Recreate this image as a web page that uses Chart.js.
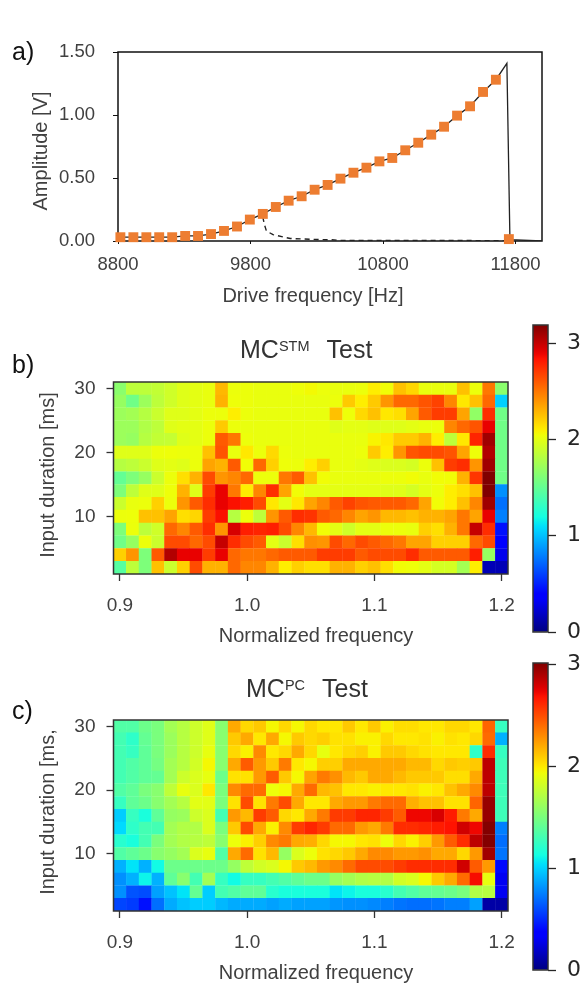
<!DOCTYPE html>
<html>
<head>
<meta charset="utf-8">
<title>Amplitude and memory capacity</title>
<script src="https://cdn.jsdelivr.net/npm/chart.js@4"></script>
<style>
    html, body { margin: 0; padding: 0; background: #fff; }
    body { position: relative; width: 582px; height: 984px; overflow: hidden; font-family: "Liberation Sans", sans-serif; }
    canvas { position: absolute; display: block; filter: blur(0.45px); }
    .tag, .heading, .axis { position: absolute; line-height: 1; white-space: nowrap; z-index: 2; }
    .tag { left: 12px; color: #111; font-size: 25px; }
    .heading { color: #333; font-size: 25px; }
    .heading span { font-size: 14.5px; position: relative; top: -7px; margin-right: 17px; }
    .axis { color: #404040; font-size: 20px; transform: translate(-50%, -50%); }
    .axis.up { transform: translate(-50%, -50%) rotate(-90deg); }
</style>
</head>
<body>
<div class="tag" style="top:39px">a)</div>
<div class="tag" style="top:352px">b)</div>
<div class="tag" style="top:698px">c)</div>
<div class="heading" style="left:240px;top:337px">MC<span>STM</span>Test</div>
<div class="heading" style="left:246px;top:676px">MC<span>PC</span>Test</div>
<div class="axis" style="left:313px;top:295px">Drive frequency [Hz]</div>
<div class="axis up" style="left:40px;top:151px">Amplitude [V]</div>
<div class="axis" style="left:316px;top:635px">Normalized frequency</div>
<div class="axis up" style="left:47px;top:475px">Input duration [ms]</div>
<div class="axis" style="left:316px;top:972px">Normalized frequency</div>
<div class="axis up" style="left:47px;top:812px">Input duration [ms,</div>
<canvas id="sweep" style="left:0;top:0" width="582" height="320"></canvas>
<canvas id="stm" style="left:0;top:320px" width="520" height="330"></canvas>
<canvas id="stmBar" style="left:520px;top:310px" width="62" height="340"></canvas>
<canvas id="pc" style="left:0;top:650px" width="520" height="334"></canvas>
<canvas id="pcBar" style="left:520px;top:650px" width="62" height="334"></canvas>
<script>
// panel a, upward sweep (orange markers)
const markerFreq = [8818, 8916, 9014, 9111, 9209, 9307, 9404, 9502, 9600, 9698, 9795, 9893, 9991, 10088, 10186, 10284,
    10382, 10479, 10577, 10675, 10773, 10870, 10968, 11066, 11164, 11261, 11359, 11457, 11555, 11652, 11750];
const markerAmp = [0.03, 0.03, 0.03, 0.03, 0.03, 0.04, 0.04, 0.055, 0.08, 0.115, 0.17, 0.215, 0.27, 0.32, 0.355, 0.407,
    0.445, 0.495, 0.542, 0.582, 0.632, 0.659, 0.72, 0.78, 0.844, 0.907, 0.995, 1.069, 1.183, 1.28, 0.015];
// the black trace goes a bit higher than the last marker before it drops
const peakFreq = [11735, 11758, 12000];
const peakAmp = [1.41, 0.01, 0.0];
// downward sweep (dashed)
const downFreq = [9893, 9905, 9920, 9970, 10100, 10300, 10410, 10480, 11000, 11750];
const downAmp = [0.19, 0.13, 0.08, 0.05, 0.02, 0.012, 0.01, 0.004, 0.004, 0.003];

const sweepXTicks = [8800, 9800, 10800, 11800];
const sweepYTicks = [0, 0.5, 1, 1.5];

// panels b and c, rows run from 30 ms down to 2 ms
const normFreq = [0.90, 0.91, 0.92, 0.93, 0.94, 0.95, 0.96, 0.97, 0.98, 0.99, 1.00, 1.01, 1.02, 1.03, 1.04, 1.05,
    1.06, 1.07, 1.08, 1.09, 1.10, 1.11, 1.12, 1.13, 1.14, 1.15, 1.16, 1.17, 1.18, 1.19, 1.20];
const durations = [30, 28, 26, 24, 22, 20, 18, 16, 14, 12, 10, 8, 6, 4, 2];

const stmValues = [
    [1.65,1.85,1.85,1.87,1.92,1.98,2.0,2.02,2.28,2.03,2.03,2.02,2.02,2.02,2.04,2.06,2.03,2.02,2.02,2.03,2.1,2.05,2.25,2.18,2.02,2.02,2.02,2.25,2.03,2.5,1.65],
    [1.7,1.55,1.72,1.85,1.92,1.98,2.0,2.02,2.3,2.04,2.03,2.02,2.02,2.02,2.02,2.02,2.02,2.03,2.22,2.1,2.22,2.4,2.55,2.55,2.62,2.68,2.45,2.12,2.25,2.55,1.05],
    [1.72,1.75,1.82,1.9,1.98,1.98,2.0,2.03,2.03,2.1,2.03,2.02,2.02,2.02,2.02,2.02,2.02,2.25,2.04,2.17,2.25,2.12,2.15,2.35,2.6,2.7,2.7,2.35,1.68,2.75,1.55],
    [1.72,1.72,1.8,1.85,1.98,2.0,2.0,2.03,2.22,2.03,2.02,2.02,2.02,2.02,2.02,2.02,2.02,1.98,2.0,2.0,1.98,1.98,1.98,2.0,2.02,2.03,2.45,2.55,2.62,2.9,1.55],
    [1.72,1.7,1.82,1.87,1.88,1.98,2.0,2.03,2.6,2.5,2.03,2.02,2.02,2.02,2.02,2.02,2.02,2.02,2.02,2.02,2.08,2.12,2.22,2.22,2.3,2.1,1.85,2.12,2.78,3.1,1.55],
    [1.98,1.98,1.98,2.03,2.04,2.03,2.03,2.25,2.62,2.02,2.12,2.03,2.17,2.03,2.02,2.02,2.02,2.02,2.02,2.03,2.22,2.1,2.4,2.62,2.65,2.65,2.62,2.35,2.04,3.05,1.55],
    [1.82,1.85,1.9,1.98,2.0,1.98,2.03,2.35,2.3,2.6,2.05,2.55,2.2,2.04,2.03,2.1,2.2,2.02,2.02,2.0,1.98,1.96,1.96,1.94,2.03,2.25,2.7,2.75,2.4,3.1,1.55],
    [1.5,1.6,1.7,1.9,2.03,2.15,2.3,2.65,2.4,2.45,2.55,2.03,2.03,2.5,2.6,2.25,2.05,2.02,2.02,2.02,2.02,2.03,2.03,2.05,2.02,2.05,2.05,2.3,2.72,3.2,1.55],
    [1.6,1.85,1.98,1.98,2.04,2.3,1.98,2.7,2.9,2.5,2.1,2.45,2.75,2.35,2.05,2.0,2.0,2.0,2.0,2.0,2.0,1.98,1.98,1.94,2.0,2.03,2.1,2.15,2.25,3.2,0.85],
    [1.9,2.02,2.03,2.2,2.03,2.4,2.6,2.75,2.9,2.85,2.8,2.65,2.12,2.0,2.12,2.35,2.45,2.6,2.68,2.62,2.6,2.6,2.6,2.55,2.35,2.05,2.1,2.25,2.45,3.1,0.75],
    [2.03,2.04,2.25,2.25,2.35,2.15,2.18,2.7,2.85,1.82,2.03,1.85,2.4,2.6,2.75,2.73,2.6,2.55,2.45,2.35,2.4,2.28,2.28,2.25,2.3,2.3,2.35,2.5,2.35,2.9,0.8],
    [1.6,2.03,1.85,1.92,2.55,2.45,2.6,2.75,2.4,2.95,2.8,2.78,2.8,2.65,2.45,2.28,2.05,2.0,1.92,2.0,2.0,2.03,2.03,2.02,2.2,2.15,2.3,2.5,3.0,2.75,0.45],
    [1.55,1.7,2.03,1.9,2.65,2.65,2.55,2.65,3.0,2.75,2.65,2.6,2.0,1.9,2.15,2.42,2.4,2.65,2.55,2.65,2.6,2.55,2.5,2.35,2.35,2.2,2.2,2.2,2.55,2.65,0.35],
    [2.2,2.4,1.6,2.6,3.05,2.9,2.9,2.7,2.9,2.55,2.5,2.5,2.55,2.6,2.6,2.6,2.7,2.7,2.7,2.6,2.65,2.65,2.65,2.75,2.6,2.6,2.6,2.6,2.8,1.7,0.3],
    [1.45,1.85,1.6,2.25,1.9,2.2,2.65,2.3,2.3,2.55,2.45,2.45,2.3,2.1,2.2,2.15,2.15,2.3,2.3,2.2,2.25,2.15,2.05,2.04,2.0,1.94,1.94,1.75,2.1,0.15,0.15]
];

const pcValues = [
    [1.35,1.35,1.45,1.5,1.65,1.72,1.8,1.87,1.55,2.2,2.05,2.1,1.95,2.05,1.95,2.05,2.0,2.0,2.1,2.0,2.1,1.97,2.03,2.03,2.0,2.0,2.05,2.05,2.0,2.42,1.25],
    [1.3,1.22,1.42,1.5,1.62,1.72,1.8,1.87,1.55,2.1,2.2,2.0,2.2,1.95,2.1,2.05,2.08,2.02,2.02,1.97,1.97,2.05,2.0,2.0,2.02,1.97,2.02,2.0,2.05,2.4,0.9],
    [1.3,1.25,1.4,1.5,1.62,1.72,1.8,1.9,1.55,2.05,1.97,2.3,2.0,2.05,2.2,2.05,1.9,2.0,2.05,2.08,1.97,2.1,2.1,2.05,2.02,2.0,2.0,2.0,1.22,2.6,1.25],
    [1.3,1.35,1.4,1.48,1.65,1.72,1.82,1.95,1.55,2.2,2.45,2.25,2.1,2.35,2.0,1.95,2.08,2.08,2.2,2.2,2.2,2.2,2.2,2.15,2.15,2.05,2.1,2.08,2.1,2.85,1.28],
    [1.3,1.35,1.4,1.42,1.65,1.8,1.85,1.9,1.45,2.02,2.02,2.25,2.45,2.1,1.95,2.22,2.35,2.28,2.15,2.1,2.2,2.2,2.15,2.1,2.1,2.1,2.03,2.03,2.2,2.85,1.28],
    [1.35,1.4,1.5,1.55,1.75,1.9,1.85,2.0,1.5,2.3,2.4,2.4,1.92,1.95,2.2,2.4,2.15,2.12,2.0,2.0,1.97,2.0,2.0,2.02,1.97,2.0,2.12,2.2,2.3,2.85,1.28],
    [1.25,1.4,1.45,1.55,1.65,1.72,1.88,1.88,1.5,2.02,2.5,2.02,2.35,2.5,2.2,2.0,2.0,2.2,2.25,2.25,2.35,2.4,2.4,2.18,2.12,2.12,2.02,2.02,2.42,2.95,1.28],
    [0.98,1.25,1.15,1.4,1.6,1.62,1.8,1.85,1.3,2.25,2.15,2.55,2.45,2.05,2.0,2.2,2.35,2.55,2.55,2.62,2.62,2.55,2.45,2.72,2.72,2.78,2.65,2.35,2.2,2.95,1.28],
    [1.02,1.22,1.3,1.3,1.65,1.7,1.7,1.85,1.5,2.1,2.5,2.2,1.97,2.3,2.55,2.62,2.55,2.4,2.4,2.25,2.2,2.35,2.6,2.6,2.62,2.65,2.68,2.8,2.72,3.0,0.75],
    [1.2,1.15,1.3,1.5,1.65,1.7,1.72,1.75,1.55,1.92,1.97,2.08,2.3,2.35,2.2,2.18,2.05,1.95,1.95,2.0,2.02,1.92,2.05,1.97,2.08,2.25,2.45,2.6,2.85,3.0,0.7],
    [1.35,1.4,1.45,1.55,1.6,1.65,1.85,1.9,1.35,2.2,2.4,2.02,2.15,1.6,1.85,1.92,2.02,2.05,2.1,2.2,2.3,2.3,2.25,2.25,2.28,2.2,2.2,2.05,2.25,2.92,0.72],
    [0.9,1.05,0.9,1.12,1.45,1.45,1.45,1.45,1.45,1.6,1.75,1.82,1.85,1.95,2.1,2.15,2.25,2.3,2.4,2.5,2.5,2.5,2.55,2.6,2.6,2.6,2.6,2.8,2.45,2.25,0.4],
    [0.8,0.9,1.1,0.9,1.4,1.55,1.3,1.65,1.25,1.12,1.25,1.25,1.3,1.35,1.4,1.45,1.45,1.6,1.65,1.7,1.72,1.7,1.82,1.85,1.95,2.1,2.2,2.4,2.7,1.9,0.3],
    [0.8,0.62,0.6,0.85,0.95,1.05,1.42,0.98,1.3,1.35,1.4,1.4,1.2,1.15,1.15,1.15,1.15,1.05,1.1,1.15,1.15,1.2,1.3,1.35,1.4,1.42,1.45,1.5,1.7,1.72,0.3],
    [0.58,0.55,0.42,0.7,0.88,0.95,0.98,0.98,0.92,0.88,0.88,0.88,0.85,0.88,0.85,0.85,0.85,0.82,0.8,0.8,0.78,0.75,0.72,0.7,0.7,0.72,0.75,0.75,0.85,0.1,0.1]
];

const heatXTicks = [0.9, 1.0, 1.1, 1.2];
const heatYTicks = [10, 20, 30];
const stmMax = 3.19;
const pcMax = 3.01;
const barTicks = [0, 1, 2, 3];

const grey = '#404040';
const family = '"Liberation Sans", sans-serif';

// matplotlib jet, t in 0..1
function jet(t) {
    t = Math.min(1, Math.max(0, t));
    let r = t < 0.35 ? 0 : t < 0.66 ? (t - 0.35) / 0.31 : t < 0.89 ? 1 : 1 - (t - 0.89) / 0.11 * 0.5;
    let g = t < 0.125 ? 0 : t < 0.375 ? (t - 0.125) / 0.25 : t < 0.64 ? 1 : t < 0.91 ? 1 - (t - 0.64) / 0.27 : 0;
    let b = t < 0.11 ? 0.5 + t / 0.11 * 0.5 : t < 0.34 ? 1 : t < 0.65 ? 1 - (t - 0.34) / 0.31 : 0;
    return 'rgb(' + Math.round(r * 255) + ',' + Math.round(g * 255) + ',' + Math.round(b * 255) + ')';
}

function framePlugin(hook, color, width) {
    return {
        id: 'frame',
        [hook](chart) {
            let a = chart.chartArea;
            let ctx = chart.ctx;
            ctx.save();
            ctx.strokeStyle = color;
            ctx.lineWidth = width;
            ctx.strokeRect(a.left, a.top, a.right - a.left, a.bottom - a.top);
            ctx.restore();
        }
    };
}

function fixedTicks(values) {
    return function(scale) {
        scale.ticks = values.map(v => ({ value: v }));
    };
}

function sweepChart() {
    let markers = markerFreq.map((f, i) => ({ x: f, y: markerAmp[i] }));
    let solid = markers.slice(0, -1);
    peakFreq.forEach((f, i) => solid.push({ x: f, y: peakAmp[i] }));
    let dashed = downFreq.map((f, i) => ({ x: f, y: downAmp[i] }));

    new Chart(document.getElementById('sweep'), {
        type: 'scatter',
        data: {
            // first dataset ends up on top
            datasets: [
                { data: markers, pointStyle: 'rect', pointRadius: 7, backgroundColor: '#ED7D31', borderWidth: 0, clip: false },
                { data: solid, showLine: true, borderColor: '#222', borderWidth: 1.3, pointRadius: 0 },
                { data: dashed, showLine: true, borderColor: '#222', borderWidth: 1.4, borderDash: [5, 4], pointRadius: 0 }
            ]
        },
        options: {
            responsive: false,
            animation: false,
            events: [],
            layout: { padding: { top: 52, right: 40, left: 0, bottom: 0 } },
            plugins: { legend: { display: false }, tooltip: { enabled: false } },
            scales: {
                x: {
                    type: 'linear', min: 8800, max: 12000,
                    afterBuildTicks: fixedTicks(sweepXTicks),
                    afterFit: s => { s.height = 79; },
                    grid: { drawOnChartArea: false, tickLength: 3, color: '#111', tickWidth: 1 },
                    border: { display: false },
                    ticks: { color: grey, font: { family: family, size: 18.5 }, padding: 10, maxRotation: 0, autoSkip: false,
                        callback: v => String(v) }
                },
                y: {
                    min: 0, max: 1.5,
                    afterBuildTicks: fixedTicks(sweepYTicks),
                    afterFit: s => { s.width = 118; },
                    grid: { drawOnChartArea: false, tickLength: 5, color: '#111', tickWidth: 1 },
                    border: { display: false },
                    ticks: { color: grey, font: { family: family, size: 18.5 }, padding: 18, autoSkip: false,
                        callback: v => v.toFixed(2) }
                }
            }
        },
        plugins: [framePlugin('beforeDatasetsDraw', '#111', 1.5)]
    });
}

function heatChart(id, values, vmax, top, xHeight) {
    let cells = [];
    durations.forEach(function(d, r) {
        normFreq.forEach(function(f, c) {
            cells.push({ x: f, y: d, v: values[r][c] });
        });
    });

    new Chart(document.getElementById(id), {
        type: 'scatter',
        data: {
            datasets: [{
                data: cells,
                pointStyle: 'rect',
                borderWidth: 0,
                // rect point half side is radius * sqrt(0.5), small overlap hides seams
                pointRadius: function(ctx) {
                    let s = ctx.chart.scales;
                    let w = Math.abs(s.x.getPixelForValue(0.91) - s.x.getPixelForValue(0.90));
                    let h = Math.abs(s.y.getPixelForValue(2) - s.y.getPixelForValue(4));
                    return (Math.max(w, h) / 2 + 0.15) * Math.SQRT2;
                },
                backgroundColor: ctx => jet(ctx.raw.v / vmax)
            }]
        },
        options: {
            responsive: false,
            animation: false,
            events: [],
            layout: { padding: { top: top, right: 12, left: 0, bottom: 0 } },
            plugins: { legend: { display: false }, tooltip: { enabled: false } },
            scales: {
                x: {
                    type: 'linear', min: 0.895, max: 1.205,
                    afterBuildTicks: fixedTicks(heatXTicks),
                    // no extra margin for the outer tick labels, they fit inside the canvas
                    afterFit: s => { s.height = xHeight; s.paddingLeft = 0; s.paddingRight = 0; },
                    grid: { drawOnChartArea: false, tickLength: 7, color: '#333', tickWidth: 1.3 },
                    border: { display: false },
                    ticks: { color: grey, font: { family: family, size: 19 }, padding: 13, maxRotation: 0, autoSkip: false,
                        callback: v => v.toFixed(1) }
                },
                y: {
                    min: 1, max: 31,
                    afterBuildTicks: fixedTicks(heatYTicks),
                    afterFit: s => { s.width = 113.5; },
                    grid: { drawOnChartArea: false, tickLength: 7, color: '#333', tickWidth: 1.3 },
                    border: { display: false },
                    ticks: { color: grey, font: { family: family, size: 19 }, padding: 11, autoSkip: false,
                        callback: v => String(v) }
                }
            }
        },
        plugins: [framePlugin('afterDatasetsDraw', '#333', 1.5)]
    });
}

function colorBar(id, vmax, top, bottom) {
    new Chart(document.getElementById(id), {
        type: 'bar',
        data: {
            labels: ['level'],
            datasets: [{
                data: [[0, vmax]],
                barPercentage: 1,
                categoryPercentage: 1,
                backgroundColor: function(ctx) {
                    let a = ctx.chart.chartArea;
                    if (!a) return '#fff';
                    let g = ctx.chart.ctx.createLinearGradient(0, a.bottom, 0, a.top);
                    for (let i = 0; i <= 64; i++) g.addColorStop(i / 64, jet(i / 64));
                    return g;
                }
            }]
        },
        options: {
            responsive: false,
            animation: false,
            events: [],
            layout: { padding: { top: top, bottom: bottom, left: 13, right: 0 } },
            plugins: { legend: { display: false }, tooltip: { enabled: false } },
            scales: {
                x: { display: false },
                y: {
                    position: 'right', min: 0, max: vmax,
                    afterBuildTicks: fixedTicks(barTicks),
                    afterFit: s => { s.width = 34; s.paddingTop = 0; s.paddingBottom = 0; },
                    grid: { drawOnChartArea: false, tickLength: 8, color: '#262626', tickWidth: 1.3 },
                    border: { display: false },
                    ticks: { color: '#262626', font: { family: '"DejaVu Sans", sans-serif', size: 22 }, padding: 11, autoSkip: false,
                        callback: v => String(v) }
                }
            }
        },
        plugins: [framePlugin('afterDatasetsDraw', '#333', 1.5)]
    });
}

sweepChart();
heatChart('stm', stmValues, stmMax, 62, 76);
colorBar('stmBar', stmMax, 15, 18);
heatChart('pc', pcValues, pcMax, 70, 73);
colorBar('pcBar', pcMax, 13, 14);
</script>
</body>
</html>
